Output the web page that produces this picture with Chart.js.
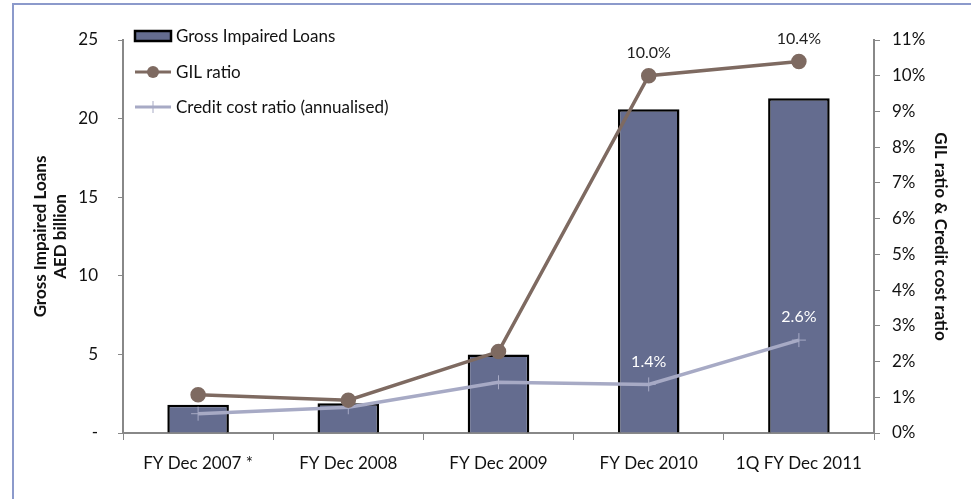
<!DOCTYPE html>
<html>
<head>
<meta charset="utf-8">
<script src="https://cdn.jsdelivr.net/npm/chart.js@4"></script>
<style>
  body { margin: 0; background: #fff; }
  .wrap { position: relative; width: 971px; height: 499px; }
  .frame { position: absolute; left: 12px; top: 3px; right: -5px; bottom: -5px; border-left: 2px solid #8c9acb; border-top: 2px solid #8c9acb; pointer-events: none; }
</style>
</head>
<body>
<div class="wrap">
  <canvas id="gilChart" width="971" height="499"></canvas>
  <div class="frame"></div>
</div>
<script>
// Chart data
const categories = ["FY Dec 2007 *", "FY Dec 2008", "FY Dec 2009", "FY Dec 2010", "1Q FY Dec 2011"];
const grossImpairedLoans = [1.8, 1.9, 5.0, 20.6, 21.3];   // AED billion
const gilRatio = [1.07, 0.92, 2.28, 10.0, 10.4];           // %
const creditCostRatio = [0.54, 0.72, 1.42, 1.36, 2.6];     // %
const gilLabelShown = [false, false, false, true, true];
const creditLabelShown = [false, false, false, true, true];
const leftTicks = [0, 5, 10, 15, 20, 25];

const FONT = "Lato, 'Open Sans', sans-serif";
const barColor = "#646c8f";
const gilColor = "#7e6a61";
const creditColor = "#a7aac5";

// draws value labels above the last two points of each line
const pointLabels = {
    id: "pointLabels",
    afterDatasetsDraw(chart) {
        const ctx = chart.ctx;
        ctx.save();
        ctx.font = "16px " + FONT;
        ctx.textAlign = "center";
        ctx.textBaseline = "middle";
        const sets = [
            { idx: 1, shown: gilLabelShown, data: gilRatio, color: "#222" },
            { idx: 2, shown: creditLabelShown, data: creditCostRatio, color: "#fff" }
        ];
        sets.forEach(s => {
            const meta = chart.getDatasetMeta(s.idx);
            meta.data.forEach((pt, i) => {
                if (!s.shown[i]) return;
                ctx.fillStyle = s.color;
                ctx.fillText(s.data[i].toFixed(1) + "%", pt.x, pt.y - 23);
            });
        });
        ctx.restore();
    }
};

// vertical legend in the top-left corner of the plot
const sideLegend = {
    id: "sideLegend",
    afterDraw(chart) {
        const ctx = chart.ctx;
        const x0 = 135, x1 = 171, tx = 176;
        const rows = [36, 72, 107];
        ctx.save();
        ctx.font = "17px " + FONT;
        ctx.textBaseline = "middle";

        // bar swatch
        ctx.fillStyle = barColor;
        ctx.strokeStyle = "#000";
        ctx.lineWidth = 2.5;
        ctx.fillRect(x0, rows[0] - 5, x1 - x0, 10);
        ctx.strokeRect(x0, rows[0] - 5, x1 - x0, 10);

        // GIL ratio swatch
        ctx.strokeStyle = gilColor;
        ctx.lineWidth = 3;
        ctx.beginPath(); ctx.moveTo(x0, rows[1]); ctx.lineTo(x1, rows[1]); ctx.stroke();
        ctx.fillStyle = gilColor;
        ctx.beginPath(); ctx.arc((x0 + x1) / 2, rows[1], 6, 0, Math.PI * 2); ctx.fill();

        // credit cost swatch
        ctx.strokeStyle = creditColor;
        ctx.beginPath(); ctx.moveTo(x0, rows[2]); ctx.lineTo(x1, rows[2]); ctx.stroke();
        ctx.lineWidth = 1;
        ctx.beginPath(); ctx.moveTo((x0 + x1) / 2, rows[2] - 6); ctx.lineTo((x0 + x1) / 2, rows[2] + 6); ctx.stroke();

        ctx.fillStyle = "#111";
        const names = chart.data.datasets.map(d => d.label);
        names.forEach((n, i) => ctx.fillText(n, tx, rows[i] + 1));
        ctx.restore();
    }
};

const ctx = document.getElementById("gilChart").getContext("2d");
new Chart(ctx, {
    data: {
        labels: categories,
        datasets: [
            {
                type: "bar",
                label: "Gross Impaired Loans",
                data: grossImpairedLoans,
                yAxisID: "y",
                backgroundColor: barColor,
                borderColor: "#000",
                borderWidth: 2.5,
                barPercentage: 0.41,
                categoryPercentage: 1,
                order: 3
            },
            {
                type: "line",
                label: "GIL ratio",
                data: gilRatio,
                yAxisID: "y1",
                borderColor: gilColor,
                backgroundColor: gilColor,
                borderWidth: 3.5,
                pointRadius: 6,
                pointStyle: "circle",
                order: 1
            },
            {
                type: "line",
                label: "Credit cost ratio (annualised)",
                data: creditCostRatio,
                yAxisID: "y1",
                borderColor: creditColor,
                backgroundColor: creditColor,
                borderWidth: 3.5,
                pointStyle: "cross",
                pointRadius: 7,
                pointBorderWidth: 1,
                order: 2
            }
        ]
    },
    options: {
        responsive: false,
        animation: false,
        layout: { padding: { left: 31, top: 40, right: 20, bottom: 0 } },
        plugins: {
            legend: { display: false },
            tooltip: { enabled: false }
        },
        scales: {
            x: {
                offset: true,
                grid: { drawOnChartArea: false, drawTicks: true, tickLength: 7, color: "#888", offset: true },
                border: { color: "#888", width: 2 },
                ticks: { color: "#111", font: { family: FONT, size: 17 }, padding: 13, maxRotation: 0 },
                afterFit(scale) { scale.height = 66; }
            },
            y: {
                position: "left",
                min: 0,
                max: 25,
                afterBuildTicks(scale) { scale.ticks = leftTicks.map(v => ({ value: v })); },
                grid: { drawOnChartArea: false, drawTicks: true, tickLength: 5, color: "#888" },
                border: { color: "#888", width: 2 },
                ticks: {
                    color: "#111",
                    font: { family: FONT, size: 17 },
                    padding: 20,
                    callback: v => v === 0 ? "-" : v
                },
                title: {
                    display: true,
                    text: ["Gross Impaired Loans", "AED billion"],
                    color: "#111",
                    font: { family: FONT, size: 17, weight: "bold", lineHeight: 1.15 },
                    padding: { top: 0, bottom: 0 }
                },
                afterFit(scale) { scale.width = 92; }
            },
            y1: {
                position: "right",
                min: 0,
                max: 11,
                ticks: {
                    stepSize: 1,
                    color: "#111",
                    font: { family: FONT, size: 17 },
                    padding: 12,
                    callback: v => v + "%"
                },
                grid: { drawOnChartArea: false, drawTicks: true, tickLength: 6, color: "#888" },
                border: { color: "#888", width: 2 },
                title: {
                    display: true,
                    text: "GIL ratio & Credit cost ratio",
                    color: "#111",
                    font: { family: FONT, size: 17, weight: "bold" },
                    padding: { top: 0, bottom: 0 }
                },
                afterFit(scale) { scale.width = 77; }
            }
        }
    },
    plugins: [pointLabels, sideLegend]
});
</script>
</body>
</html>
